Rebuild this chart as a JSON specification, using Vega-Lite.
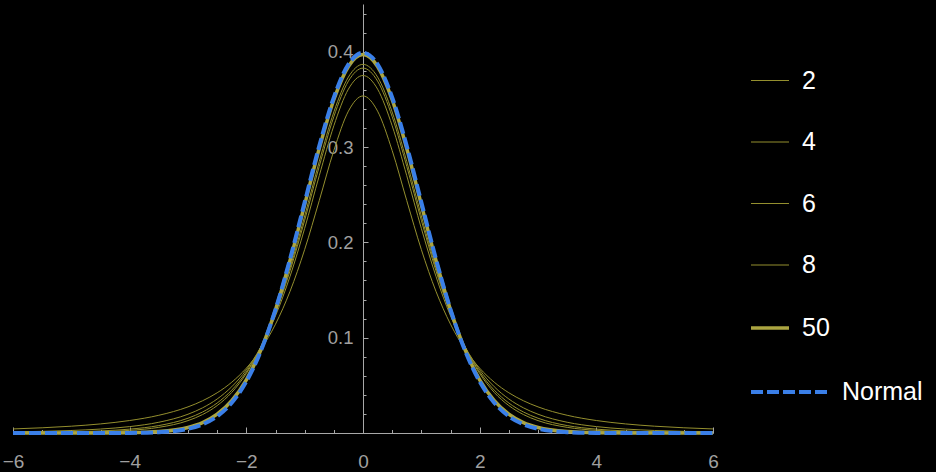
{
  "$schema": "https://vega.github.io/schema/vega-lite/v6.json",
  "width": 700,
  "height": 429,
  "autosize": {"type": "none"},
  "padding": {"left": 13, "top": 4, "right": 223, "bottom": 39},
  "background": "#000000",
  "config": {"view": {"stroke": null}, "font": "Liberation Sans"},
  "datasets": {
    "t": [
      {"x":-6,"y":0.00427,"nu":2},{"x":-5.5,"y":0.00546,"nu":2},{"x":-5,"y":0.00713,"nu":2},{"x":-4.5,"y":0.00953,"nu":2},{"x":-4,"y":0.01309,"nu":2},{"x":-3.5,"y":0.01859,"nu":2},{"x":-3,"y":0.02741,"nu":2},{"x":-2.75,"y":0.03382,"nu":2},{"x":-2.5,"y":0.0422,"nu":2},{"x":-2.25,"y":0.05328,"nu":2},{"x":-2,"y":0.06804,"nu":2},{"x":-1.75,"y":0.08779,"nu":2},{"x":-1.5,"y":0.11414,"nu":2},{"x":-1.25,"y":0.14872,"nu":2},{"x":-1,"y":0.19245,"nu":2},{"x":-0.75,"y":0.24378,"nu":2},{"x":-0.5,"y":0.2963,"nu":2},{"x":-0.25,"y":0.33761,"nu":2},{"x":0,"y":0.35355,"nu":2},{"x":0.25,"y":0.33761,"nu":2},{"x":0.5,"y":0.2963,"nu":2},{"x":0.75,"y":0.24378,"nu":2},{"x":1,"y":0.19245,"nu":2},{"x":1.25,"y":0.14872,"nu":2},{"x":1.5,"y":0.11414,"nu":2},{"x":1.75,"y":0.08779,"nu":2},{"x":2,"y":0.06804,"nu":2},{"x":2.25,"y":0.05328,"nu":2},{"x":2.5,"y":0.0422,"nu":2},{"x":2.75,"y":0.03382,"nu":2},{"x":3,"y":0.02741,"nu":2},{"x":3.5,"y":0.01859,"nu":2},{"x":4,"y":0.01309,"nu":2},{"x":4.5,"y":0.00953,"nu":2},{"x":5,"y":0.00713,"nu":2},{"x":5.5,"y":0.00546,"nu":2},{"x":6,"y":0.00427,"nu":2},
      {"x":-6,"y":0.00119,"nu":4},{"x":-5.5,"y":0.00175,"nu":4},{"x":-5,"y":0.00265,"nu":4},{"x":-4.5,"y":0.00414,"nu":4},{"x":-4,"y":0.00671,"nu":4},{"x":-3.5,"y":0.01127,"nu":4},{"x":-3,"y":0.01969,"nu":4},{"x":-2.75,"y":0.0264,"nu":4},{"x":-2.5,"y":0.03567,"nu":4},{"x":-2.25,"y":0.04854,"nu":4},{"x":-2,"y":0.06629,"nu":4},{"x":-1.75,"y":0.09053,"nu":4},{"x":-1.5,"y":0.12288,"nu":4},{"x":-1.25,"y":0.16444,"nu":4},{"x":-1,"y":0.21466,"nu":4},{"x":-0.75,"y":0.26988,"nu":4},{"x":-0.5,"y":0.32226,"nu":4},{"x":-0.25,"y":0.36074,"nu":4},{"x":0,"y":0.375,"nu":4},{"x":0.25,"y":0.36074,"nu":4},{"x":0.5,"y":0.32226,"nu":4},{"x":0.75,"y":0.26988,"nu":4},{"x":1,"y":0.21466,"nu":4},{"x":1.25,"y":0.16444,"nu":4},{"x":1.5,"y":0.12288,"nu":4},{"x":1.75,"y":0.09053,"nu":4},{"x":2,"y":0.06629,"nu":4},{"x":2.25,"y":0.04854,"nu":4},{"x":2.5,"y":0.03567,"nu":4},{"x":2.75,"y":0.0264,"nu":4},{"x":3,"y":0.01969,"nu":4},{"x":3.5,"y":0.01127,"nu":4},{"x":4,"y":0.00671,"nu":4},{"x":4.5,"y":0.00414,"nu":4},{"x":5,"y":0.00265,"nu":4},{"x":5.5,"y":0.00175,"nu":4},{"x":6,"y":0.00119,"nu":4},
      {"x":-6,"y":0.00042,"nu":6},{"x":-5.5,"y":0.00071,"nu":6},{"x":-5,"y":0.00122,"nu":6},{"x":-4.5,"y":0.00219,"nu":6},{"x":-4,"y":0.00405,"nu":6},{"x":-3.5,"y":0.0078,"nu":6},{"x":-3,"y":0.01549,"nu":6},{"x":-2.75,"y":0.02204,"nu":6},{"x":-2.5,"y":0.03147,"nu":6},{"x":-2.25,"y":0.04497,"nu":6},{"x":-2,"y":0.06404,"nu":6},{"x":-1.75,"y":0.09038,"nu":6},{"x":-1.5,"y":0.12556,"nu":6},{"x":-1.25,"y":0.17025,"nu":6},{"x":-1,"y":0.22314,"nu":6},{"x":-0.75,"y":0.27969,"nu":6},{"x":-0.5,"y":0.33178,"nu":6},{"x":-0.25,"y":0.3691,"nu":6},{"x":0,"y":0.38273,"nu":6},{"x":0.25,"y":0.3691,"nu":6},{"x":0.5,"y":0.33178,"nu":6},{"x":0.75,"y":0.27969,"nu":6},{"x":1,"y":0.22314,"nu":6},{"x":1.25,"y":0.17025,"nu":6},{"x":1.5,"y":0.12556,"nu":6},{"x":1.75,"y":0.09038,"nu":6},{"x":2,"y":0.06404,"nu":6},{"x":2.25,"y":0.04497,"nu":6},{"x":2.5,"y":0.03147,"nu":6},{"x":2.75,"y":0.02204,"nu":6},{"x":3,"y":0.01549,"nu":6},{"x":3.5,"y":0.0078,"nu":6},{"x":4,"y":0.00405,"nu":6},{"x":4.5,"y":0.00219,"nu":6},{"x":5,"y":0.00122,"nu":6},{"x":5.5,"y":0.00071,"nu":6},{"x":6,"y":0.00042,"nu":6},
      {"x":-6,"y":0.00018,"nu":8},{"x":-5.5,"y":0.00034,"nu":8},{"x":-5,"y":0.00066,"nu":8},{"x":-4.5,"y":0.00132,"nu":8},{"x":-4,"y":0.00276,"nu":8},{"x":-3.5,"y":0.00592,"nu":8},{"x":-3,"y":0.01301,"nu":8},{"x":-2.75,"y":0.01936,"nu":8},{"x":-2.5,"y":0.02878,"nu":8},{"x":-2.25,"y":0.04257,"nu":8},{"x":-2,"y":0.06237,"nu":8},{"x":-1.75,"y":0.08994,"nu":8},{"x":-1.5,"y":0.12677,"nu":8},{"x":-1.25,"y":0.17328,"nu":8},{"x":-1,"y":0.22761,"nu":8},{"x":-0.75,"y":0.28482,"nu":8},{"x":-0.5,"y":0.3367,"nu":8},{"x":-0.25,"y":0.37339,"nu":8},{"x":0,"y":0.3867,"nu":8},{"x":0.25,"y":0.37339,"nu":8},{"x":0.5,"y":0.3367,"nu":8},{"x":0.75,"y":0.28482,"nu":8},{"x":1,"y":0.22761,"nu":8},{"x":1.25,"y":0.17328,"nu":8},{"x":1.5,"y":0.12677,"nu":8},{"x":1.75,"y":0.08994,"nu":8},{"x":2,"y":0.06237,"nu":8},{"x":2.25,"y":0.04257,"nu":8},{"x":2.5,"y":0.02878,"nu":8},{"x":2.75,"y":0.01936,"nu":8},{"x":3,"y":0.01301,"nu":8},{"x":3.5,"y":0.00592,"nu":8},{"x":4,"y":0.00276,"nu":8},{"x":4.5,"y":0.00132,"nu":8},{"x":5,"y":0.00066,"nu":8},{"x":5.5,"y":0.00034,"nu":8},{"x":6,"y":0.00018,"nu":8},
      {"x":-6,"y":0,"nu":50},{"x":-5.5,"y":0,"nu":50},{"x":-5,"y":0.00001,"nu":50},{"x":-4.5,"y":0.00007,"nu":50},{"x":-4,"y":0.00033,"nu":50},{"x":-3.5,"y":0.00149,"nu":50},{"x":-3,"y":0.00583,"nu":50},{"x":-2.75,"y":0.01094,"nu":50},{"x":-2.5,"y":0.0197,"nu":50},{"x":-2.25,"y":0.03394,"nu":50},{"x":-2,"y":0.05578,"nu":50},{"x":-1.75,"y":0.08719,"nu":50},{"x":-1.5,"y":0.1292,"nu":50},{"x":-1.25,"y":0.18112,"nu":50},{"x":-1,"y":0.23956,"nu":50},{"x":-0.75,"y":0.29843,"nu":50},{"x":-0.5,"y":0.34954,"nu":50},{"x":-0.25,"y":0.38451,"nu":50},{"x":0,"y":0.39695,"nu":50},{"x":0.25,"y":0.38451,"nu":50},{"x":0.5,"y":0.34954,"nu":50},{"x":0.75,"y":0.29843,"nu":50},{"x":1,"y":0.23956,"nu":50},{"x":1.25,"y":0.18112,"nu":50},{"x":1.5,"y":0.1292,"nu":50},{"x":1.75,"y":0.08719,"nu":50},{"x":2,"y":0.05578,"nu":50},{"x":2.25,"y":0.03394,"nu":50},{"x":2.5,"y":0.0197,"nu":50},{"x":2.75,"y":0.01094,"nu":50},{"x":3,"y":0.00583,"nu":50},{"x":3.5,"y":0.00149,"nu":50},{"x":4,"y":0.00033,"nu":50},{"x":4.5,"y":0.00007,"nu":50},{"x":5,"y":0.00001,"nu":50},{"x":5.5,"y":0,"nu":50},{"x":6,"y":0,"nu":50}
    ],
    "normal": [
      {"x":-6,"y":0},{"x":-5.5,"y":0},{"x":-5,"y":0},{"x":-4.5,"y":0.00002},{"x":-4,"y":0.00013},{"x":-3.5,"y":0.00087},{"x":-3,"y":0.00443},{"x":-2.75,"y":0.00909},{"x":-2.5,"y":0.01753},{"x":-2.25,"y":0.03174},{"x":-2,"y":0.05399},{"x":-1.75,"y":0.08628},{"x":-1.5,"y":0.12952},{"x":-1.25,"y":0.18265},{"x":-1,"y":0.24197},{"x":-0.75,"y":0.30114},{"x":-0.5,"y":0.35207},{"x":-0.25,"y":0.38667},{"x":0,"y":0.39894},{"x":0.25,"y":0.38667},{"x":0.5,"y":0.35207},{"x":0.75,"y":0.30114},{"x":1,"y":0.24197},{"x":1.25,"y":0.18265},{"x":1.5,"y":0.12952},{"x":1.75,"y":0.08628},{"x":2,"y":0.05399},{"x":2.25,"y":0.03174},{"x":2.5,"y":0.01753},{"x":2.75,"y":0.00909},{"x":3,"y":0.00443},{"x":3.5,"y":0.00087},{"x":4,"y":0.00013},{"x":4.5,"y":0.00002},{"x":5,"y":0},{"x":5.5,"y":0},{"x":6,"y":0}
    ]
  },
  "resolve": {"axis": {"x": "independent", "y": "independent"}},
  "layer": [
    {
      "data": {"name": "t"},
      "mark": {"type": "line", "interpolate": "monotone"},
      "encoding": {
        "x": {"field": "x", "type": "quantitative",
          "scale": {"domain": [-6, 6], "nice": false, "zero": false},
          "axis": {"orient": "bottom", "title": null, "grid": false, "values": [-6, -4, -2, 0, 2, 4, 6],
            "tickSize": -6, "tickColor": "#a8a8a8", "domainColor": "#a8a8a8", "domainWidth": 1, "tickWidth": 1,
            "labelColor": "#a0a0a0", "labelFontSize": 19, "labelPadding": 25, "labelFlush": false, "labelOverlap": false}},
        "y": {"field": "y", "type": "quantitative",
          "scale": {"domain": [0, 0.45], "nice": false},
          "axis": {"orient": "left", "offset": -350, "title": null, "grid": false, "values": [0.1, 0.2, 0.3, 0.4],
            "tickSize": -5, "tickColor": "#a8a8a8", "domainColor": "#a8a8a8", "domainWidth": 1, "tickWidth": 1,
            "labelColor": "#a0a0a0", "labelFontSize": 18.5, "labelPadding": 15, "labelFlush": false, "labelOverlap": false}},
        "color": {"field": "nu", "type": "ordinal",
          "scale": {"type": "ordinal", "domain": [2, 4, 6, 8, 50], "range": ["#948f2e", "#948f2e", "#948f2e", "#948f2e", "#aba541"]},
          "legend": {"title": null, "orient": "none", "legendX": 736, "legendY": 57, "padding": 0,
            "symbolType": "stroke", "symbolSize": 1444, "rowPadding": 28.5, "labelOffset": 11,
            "labelFontSize": 25, "labelColor": "#ffffff", "labelFont": "Liberation Sans"}},
        "strokeWidth": {"field": "nu", "type": "ordinal",
          "scale": {"type": "ordinal", "domain": [2, 4, 6, 8, 50], "range": [1, 1, 1, 1, 3.5]},
          "legend": {"title": null, "orient": "none", "legendX": 736, "legendY": 57, "padding": 0,
            "symbolType": "stroke", "symbolSize": 1444, "rowPadding": 28.5, "labelOffset": 11,
            "labelFontSize": 25, "labelColor": "#ffffff", "labelFont": "Liberation Sans"}}
      }
    },
    {
      "data": {"name": "normal"},
      "mark": {"type": "line", "interpolate": "monotone", "color": "#3a7fe8", "strokeWidth": 4},
      "encoding": {
        "x": {"field": "x", "type": "quantitative",
          "axis": {"orient": "bottom", "title": null, "grid": false, "labels": false, "domain": false,
            "values": [-5.5, -5, -4.5, -3.5, -3, -2.5, -1.5, -1, -0.5, 0.5, 1, 1.5, 2.5, 3, 3.5, 4.5, 5, 5.5],
            "tickSize": -3.5, "tickColor": "#a8a8a8", "tickWidth": 1}},
        "y": {"field": "y", "type": "quantitative",
          "axis": {"orient": "left", "offset": -350, "title": null, "grid": false, "labels": false, "domain": false,
            "values": [0.02, 0.04, 0.06, 0.08, 0.12, 0.14, 0.16, 0.18, 0.22, 0.24, 0.26, 0.28, 0.32, 0.34, 0.36, 0.38, 0.42, 0.44],
            "tickSize": -3, "tickColor": "#a8a8a8", "tickWidth": 1}},
        "strokeDash": {"datum": "Normal", "type": "nominal",
          "scale": {"domain": ["Normal"], "range": [[12, 4]]},
          "legend": {"title": null, "orient": "none", "legendX": 736, "legendY": 348, "padding": 0,
            "symbolType": "stroke", "symbolSize": 5776, "symbolStrokeColor": "#3a7fe8", "symbolStrokeWidth": 4,
            "labelOffset": 13, "labelFontSize": 25, "labelColor": "#ffffff", "labelFont": "Liberation Sans"}}
      }
    }
  ]
}
